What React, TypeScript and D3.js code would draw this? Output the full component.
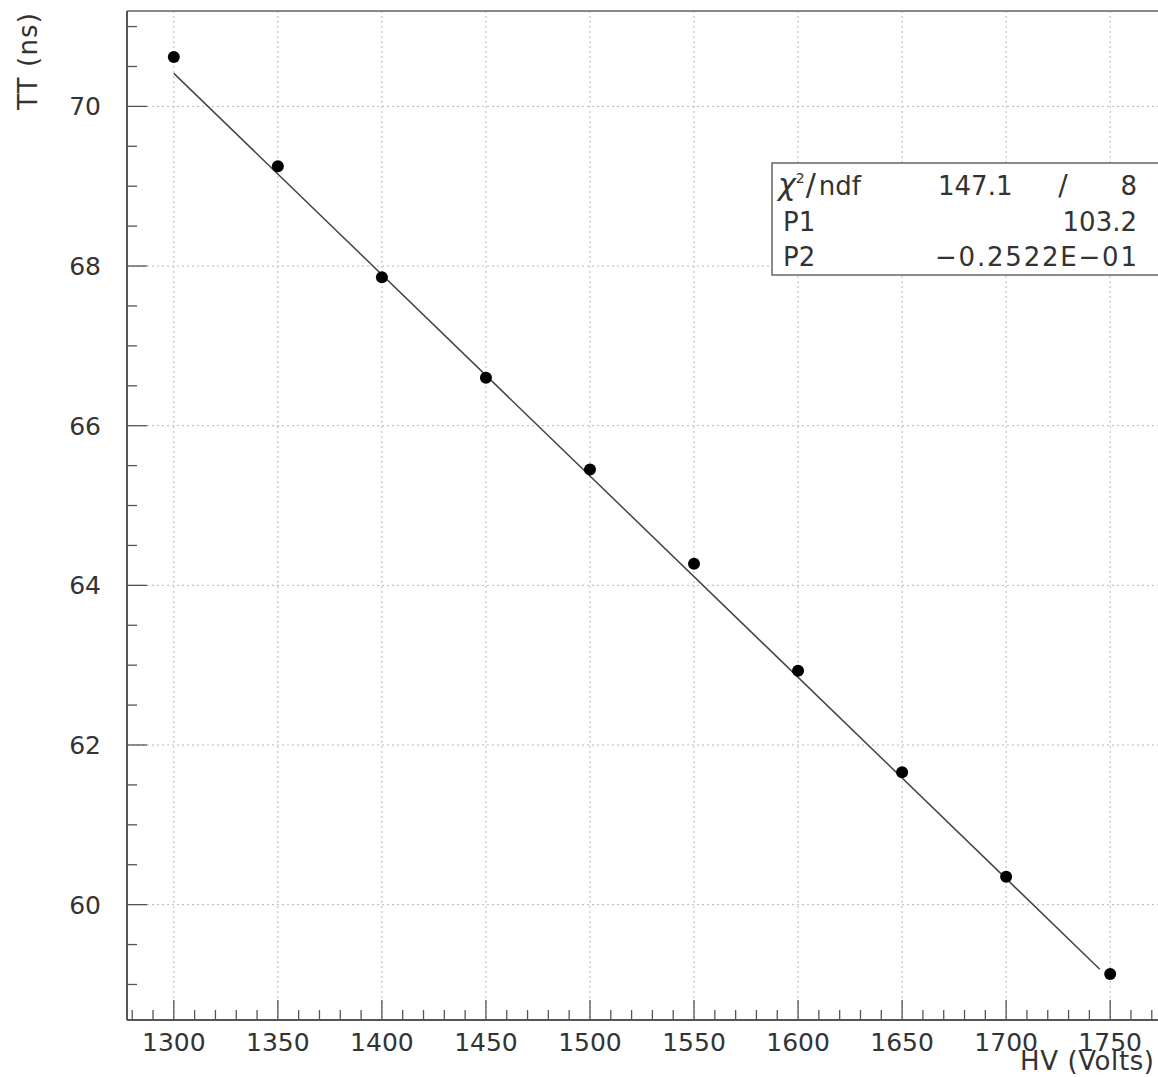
import React from "react";
import { scaleLinear, range, line } from "d3";

// measured transit time vs high voltage
const hv = [1300, 1350, 1400, 1450, 1500, 1550, 1600, 1650, 1700, 1750];
const tt = [70.62, 69.25, 67.86, 66.6, 65.45, 64.27, 62.93, 61.66, 60.35, 59.13];

// linear fit: TT = P1 + P2 * HV
const p1 = 103.2;
const p2 = -0.02522;
const fitRange = [1300, 1745];

const xTicks = [1300, 1350, 1400, 1450, 1500, 1550, 1600, 1650, 1700, 1750];
const yTicks = [60, 62, 64, 66, 68, 70];

const statRows = [
  { name: "ndf", mid: "147.1", slash: "/", val: "8" },
  { name: "P1", mid: "", slash: "", val: "103.2" },
  { name: "P2", mid: "", slash: "", val: "\u22120.2522E\u221201" },
];

const W = 1158;
const H = 1077;
const left = 127;
const top = 11;
const right = 1157;
const bottom = 1020;
const font = "'DejaVu Sans', sans-serif";

function App() {
  const x = scaleLinear().domain([1277.5, 1772.5]).range([left, right]);
  const y = scaleLinear().domain([58.555, 71.195]).range([bottom, top]);

  const xMinor = range(1280, 1775, 10).filter((v) => v % 50 !== 0);
  const yMinor = range(58.5, 71.5, 0.5).filter(
    (v) => v % 2 !== 0 && y(v) >= top && y(v) <= bottom
  );

  const fitLine = line<number>()
    .x((v) => x(v))
    .y((v) => y(p1 + p2 * v));

  const rowY = [195, 231, 266];

  return (
    <svg
      width={W}
      height={H}
      style={{ position: "absolute", left: 0, top: 0, background: "#fff" }}
      fontFamily={font}
    >
      {/* grid */}
      <g stroke="#b8b8b8" strokeWidth={1} strokeDasharray="2,3">
        {xTicks.map((v) => (
          <line key={"gx" + v} x1={x(v)} x2={x(v)} y1={top} y2={bottom} />
        ))}
        {yTicks.map((v) => (
          <line key={"gy" + v} x1={left} x2={W} y1={y(v)} y2={y(v)} />
        ))}
      </g>

      {/* frame */}
      <line x1={left} x2={W} y1={top} y2={top} stroke="#888" strokeWidth={2} />
      <line x1={left} x2={left} y1={top} y2={bottom} stroke="#555" strokeWidth={2} />
      <line x1={left} x2={W} y1={bottom} y2={bottom} stroke="#555" strokeWidth={2} />

      {/* x axis ticks */}
      <g stroke="#555" strokeWidth={1.3}>
        {xTicks.map((v) => (
          <line key={"xt" + v} x1={x(v)} x2={x(v)} y1={bottom} y2={bottom - 20} />
        ))}
        {xMinor.map((v) => (
          <line key={"xm" + v} x1={x(v)} x2={x(v)} y1={bottom} y2={bottom - 10} />
        ))}
      </g>
      <g fontSize={25} fill="#333" textAnchor="middle">
        {xTicks.map((v) => (
          <text key={"xl" + v} x={x(v)} y={1051}>
            {v}
          </text>
        ))}
      </g>

      {/* y axis ticks */}
      <g stroke="#555" strokeWidth={1.3}>
        {yTicks.map((v) => (
          <line key={"yt" + v} x1={left} x2={left + 20} y1={y(v)} y2={y(v)} />
        ))}
        {yMinor.map((v) => (
          <line key={"ym" + v} x1={left} x2={left + 10} y1={y(v)} y2={y(v)} />
        ))}
      </g>
      <g fontSize={25} fill="#333" textAnchor="end">
        {yTicks.map((v) => (
          <text key={"yl" + v} x={101} y={y(v) + 9}>
            {v}
          </text>
        ))}
      </g>

      {/* axis titles */}
      <text
        transform="translate(37,110) rotate(-90)"
        fontSize={26}
        fill="#333"
        textLength={97}
        lengthAdjust="spacing"
      >
        TT (ns)
      </text>
      <text
        x={1020}
        y={1070}
        fontSize={26}
        fill="#333"
        textLength={134}
        lengthAdjust="spacing"
      >
        HV (Volts)
      </text>

      {/* fit */}
      <path
        d={fitLine(fitRange) || ""}
        fill="none"
        stroke="#444"
        strokeWidth={1.5}
      />

      {/* points */}
      {hv.map((v, i) => (
        <circle key={"p" + v} cx={x(v)} cy={y(tt[i])} r={6} fill="#000" />
      ))}

      {/* stats box */}
      <rect
        x={772}
        y={163}
        width={W - 772 + 5}
        height={112}
        fill="#fff"
        stroke="#666"
        strokeWidth={1.5}
      />
      <g fontSize={26} fill="#333">
        {statRows.map((r, i) => {
          const by = rowY[i];
          return (
            <g key={r.name + i}>
              {i === 0 ? (
                <text x={778} y={by}>
                  <tspan fontStyle="italic" fontSize={30}>χ</tspan>
                  <tspan dy={-12} fontSize={14}>2</tspan>
                  <tspan dy={12} dx={1} fontSize={30}>/</tspan>
                  <tspan dx={3}>ndf</tspan>
                </text>
              ) : (
                <text x={783} y={by}>
                  {r.name}
                </text>
              )}
              {r.mid && (
                <text x={938} y={by}>
                  {r.mid}
                </text>
              )}
              {r.slash && (
                <text x={1063} y={by} textAnchor="middle" fontSize={28}>
                  {r.slash}
                </text>
              )}
              {i === 2 ? (
                <text
                  x={935}
                  y={by}
                  textLength={202}
                  lengthAdjust="spacing"
                >
                  {r.val}
                </text>
              ) : (
                <text x={1137} y={by} textAnchor="end">
                  {r.val}
                </text>
              )}
            </g>
          );
        })}
      </g>
    </svg>
  );
}

export default App;
